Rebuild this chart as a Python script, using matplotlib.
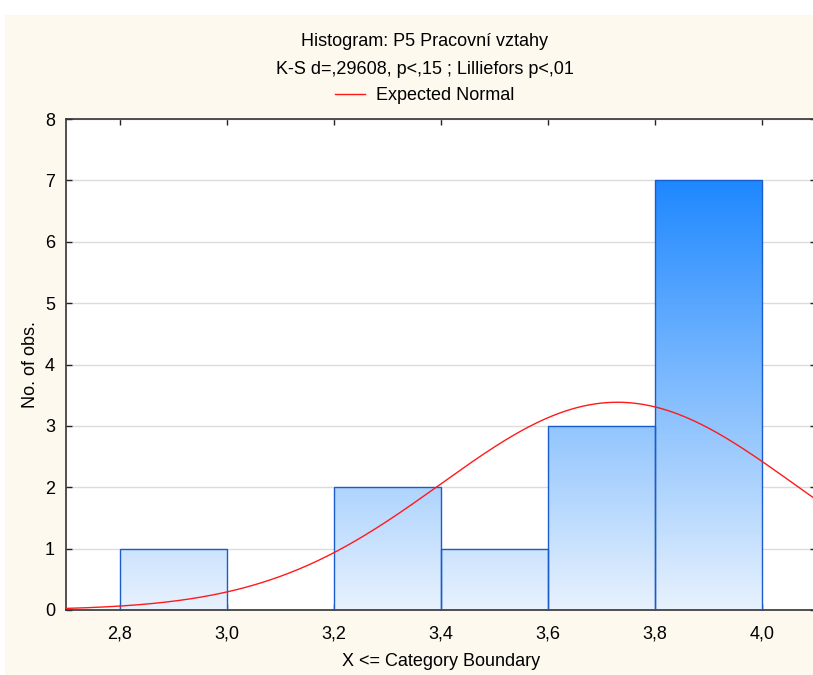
import numpy as np
import matplotlib
matplotlib.use("Agg")
import matplotlib.pyplot as plt
from matplotlib.patches import Rectangle
from matplotlib.colors import LinearSegmentedColormap

plt.rcParams['font.family'] = ['Liberation Sans', 'DejaVu Sans']

# histogram data
bin_edges = [2.8, 3.0, 3.2, 3.4, 3.6, 3.8, 4.0]
counts = [1, 0, 2, 1, 3, 7]
n_obs = 14
fit_mean = 3.73
fit_sd = 0.33
x_ticks = [2.8, 3.0, 3.2, 3.4, 3.6, 3.8, 4.0]
x_tick_labels = ['2,8', '3,0', '3,2', '3,4', '3,6', '3,8', '4,0']
y_ticks = [0, 1, 2, 3, 4, 5, 6, 7, 8]

fig = plt.figure(figsize=(8.13, 6.75), dpi=100)
fig.patch.set_facecolor('white')
# cream panel behind the chart
fig.patches.append(Rectangle((5 / 813, 0), 1, 1 - 15 / 675, transform=fig.transFigure,
                             facecolor='#fdf9ee', edgecolor='none', zorder=-1))

ax = fig.add_axes([66 / 813, 1 - 610 / 675, (815.5 - 66) / 813, (610 - 119) / 675])
ax.set_facecolor('white')
ax.set_xlim(2.7, 4.1)
ax.set_ylim(0, 8)

cmap = LinearSegmentedColormap.from_list('bars', ['#e8f2fd', '#1e88ff'])
grad = np.linspace(0, 1, 256).reshape(-1, 1)
width = bin_edges[1] - bin_edges[0]
for left, c in zip(bin_edges[:-1], counts):
    if c == 0:
        continue
    rect = Rectangle((left, 0), width, c, facecolor='none', edgecolor='#1a5ccc',
                     linewidth=1.0, zorder=3)
    ax.add_patch(rect)
    im = ax.imshow(grad, cmap=cmap, origin='lower', aspect='auto',
                   extent=(bin_edges[0], bin_edges[-1], 0, max(counts)), zorder=2)
    im.set_clip_path(rect)

xs = np.linspace(2.7, 4.1, 400)
ys = n_obs * width / (fit_sd * np.sqrt(2 * np.pi)) * np.exp(-(xs - fit_mean) ** 2 / (2 * fit_sd ** 2))
line, = ax.plot(xs, ys, color='#ff1a1a', linewidth=1.0, zorder=4, label='Expected Normal')

ax.set_xticks(x_ticks)
ax.set_xticklabels(x_tick_labels)
ax.set_yticks(y_ticks)
ax.grid(axis='y', color='#dcdcdc', linewidth=1.0, zorder=0)
ax.set_axisbelow(True)
ax.tick_params(direction='in', length=4, width=1, top=True, right=True,
               labelsize=13, colors='#222222', labelcolor='black')
ax.tick_params(axis='x', pad=11)
ax.tick_params(axis='y', pad=8)
for s in ax.spines.values():
    s.set_color('#333333')
    s.set_linewidth(1.2)

ax.set_xlabel('X <= Category Boundary', fontsize=13, labelpad=8)
ax.set_ylabel('No. of obs.', fontsize=13, labelpad=4)

cx = 0.5 + 18 / 813
fig.text(cx, 1 - 42 / 675, 'Histogram: P5 Pracovní vztahy', ha='center', va='center', fontsize=13)
fig.text(cx, 1 - 69 / 675, 'K-S d=,29608, p<,15 ; Lilliefors p<,01', ha='center', va='center', fontsize=13)
fig.legend(handles=[line], loc='center', bbox_to_anchor=(cx, 1 - 96 / 675),
           frameon=False, fontsize=13, handlelength=1.7, handletextpad=0.6)

fig.savefig('out.png', dpi=100, facecolor=fig.get_facecolor())
